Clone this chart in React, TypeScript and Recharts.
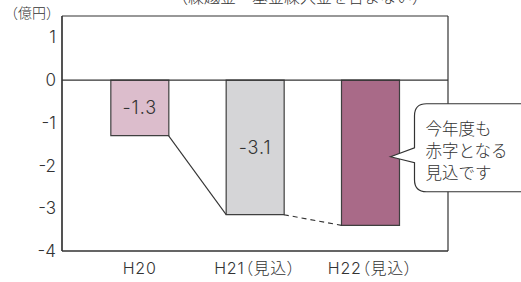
import React from 'react';
import { ComposedChart, Bar, Cell, XAxis, YAxis, LabelList, ReferenceLine, Scatter, CartesianGrid } from 'recharts';

const categories = ['H20', 'H21（見込）', 'H22（見込）'];
const values = [-1.3, -3.15, -3.4];
const valueLabels = ['-1.3', '-3.1', ''];
const barColors = ['#dcbdcc', '#d5d5d7', '#a96a88'];
const notes = ['', '', '今年度も\n赤字となる\n見込です'];
const yTicks = [1, 0, -1, -2, -3, -4];
const connectorStyles = ['solid', 'dashed'];

const FONT = 'Inter, "Noto Sans CJK JP", sans-serif';
const CJK = '"Noto Sans CJK JP", "Noto Sans", sans-serif';
const INK = '#333333';
const GAP = 0.25; // barCategoryGap fraction

const data = categories.map((c, i) => ({ cat: c, v: values[i], label: valueLabels[i], note: notes[i] }));

// connectors between bottom corners of adjacent bars (numeric x: band index units)
const connectors = values.slice(0, -1).map((v, i) => ({
  style: connectorStyles[i],
  points: [
    { x: i + 1 - GAP, y: v },
    { x: i + 1 + GAP, y: values[i + 1] },
  ],
}));

const noShape = () => <g />;

const frameH = ({ offset }: any) => [offset.top, offset.top + offset.height];
const frameV = ({ offset }: any) => [offset.left, offset.left + offset.width];

const Callout = (props: any) => {
  const { x, y, width, height, index } = props;
  const note = notes[index];
  if (!note) return null;
  const tx = x + width - 9;
  const ty = y + height / 2 + 4;
  const L = tx + 24;
  const T = ty - 53;
  const B = ty + 35;
  const R = L + 130;
  const r = 12;
  const d = `M ${tx} ${ty} L ${L} ${ty - 9} L ${L} ${T + r} Q ${L} ${T} ${L + r} ${T} L ${R} ${T} L ${R} ${B} L ${L + r} ${B} Q ${L} ${B} ${L} ${B - r} L ${L} ${ty + 6} Z`;
  const lines = note.split('\n');
  return (
    <g>
      <path d={d} fill="#ffffff" stroke={INK} strokeWidth={1.2} />
      {lines.map((ln, k) => (
        <text key={k} x={L + 11} y={ty - 29 + k * 22} dominantBaseline="central" fontSize={16.5} fontWeight={300} fill={INK} fontFamily={CJK}>
          {ln}
        </text>
      ))}
    </g>
  );
};

export default function App() {
  return (
    <div style={{ position: 'absolute', left: 0, top: 0, width: 521, height: 282, overflow: 'hidden', background: '#fff', fontFamily: CJK }}>
      <div style={{ position: 'absolute', left: 172, top: -12, fontSize: 16, lineHeight: '16px', color: INK, whiteSpace: 'nowrap', fontWeight: 300 }}>
        （繰越金・基金繰入金を含まない）
      </div>
      <div style={{ position: 'absolute', left: 4, top: 4, fontSize: 14, lineHeight: '16px', color: INK, whiteSpace: 'nowrap', fontWeight: 300 }}>
        （億円）
      </div>
      <div style={{ position: 'absolute', left: 0, top: 0 }}>
        <ComposedChart width={521} height={282} data={data} margin={{ top: 16, right: 73, bottom: 0, left: 0 }} barCategoryGap={`${GAP * 100}%`}>
          <CartesianGrid
            stroke={INK}
            strokeWidth={1.2}
            horizontalCoordinatesGenerator={frameH}
            verticalCoordinatesGenerator={frameV}
          />
          <XAxis
            dataKey="cat"
            padding={{ left: 20, right: 20 }}
            tickLine={false}
            axisLine={{ stroke: INK, strokeWidth: 1.2 }}
            height={31}
            tickMargin={6}
            interval={0}
            tick={{ fontSize: 16, fill: INK, fontFamily: FONT, fontWeight: 300, letterSpacing: 0.8, style: { fontFeatureSettings: '"palt"' } }}
          />
          <XAxis xAxisId="n" type="number" dataKey="x" domain={[0, 3]} padding={{ left: 20, right: 20 }} allowDataOverflow hide />
          <YAxis
            domain={[-4, 1.5]}
            ticks={yTicks}
            width={62}
            tickLine={false}
            tickMargin={0}
            axisLine={{ stroke: INK, strokeWidth: 1.2 }}
            tick={{ fontSize: 17, fill: INK, fontFamily: FONT, fontWeight: 300 }}
            allowDataOverflow
          />
          <YAxis yAxisId="n" dataKey="y" domain={[-4, 1.5]} allowDataOverflow hide />
          <Bar dataKey="v" isAnimationActive={false} stroke="#3f3f3f" strokeWidth={1.2}>
            {data.map((d, i) => (
              <Cell key={i} fill={barColors[i]} />
            ))}
            <LabelList dataKey="label" position="center" fontSize={18} fontWeight={300} letterSpacing={1} fill={INK} fontFamily={FONT} />
            <LabelList dataKey="note" content={Callout} />
          </Bar>
          <ReferenceLine y={0} stroke={INK} strokeWidth={1.2} />
          {connectors.map((c, i) => (
            <Scatter
              key={i}
              xAxisId="n"
              yAxisId="n"
              data={c.points}
              dataKey="y"
              isAnimationActive={false}
              shape={noShape}
              line={{ stroke: INK, strokeWidth: 1.1, strokeDasharray: c.style === 'dashed' ? '5 4' : undefined, fill: 'none' }}
            />
          ))}
        </ComposedChart>
      </div>
    </div>
  );
}
